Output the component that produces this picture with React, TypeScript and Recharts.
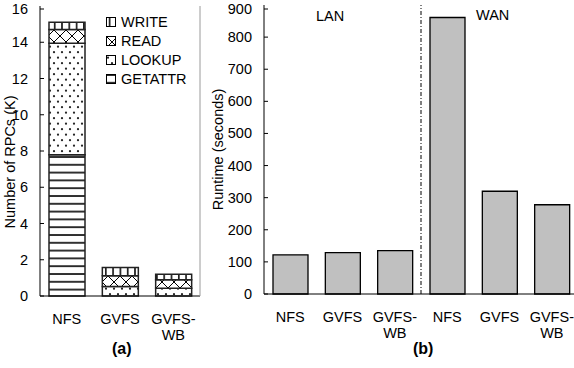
import { BarChart, Bar, XAxis, YAxis, Legend, ReferenceLine } from 'recharts';

// (a) RPC counts, thousands
const rpcCategories = ['NFS', 'GVFS', 'GVFS-WB'];
const getattrK = [7.8, 0, 0];
const lookupK = [6.15, 0.52, 0.43];
const readK = [0.75, 0.6, 0.46];
const writeK = [0.4, 0.45, 0.31];
const rpcTicks = [0, 2, 4, 6, 8, 10, 12, 14, 16];

// (b) runtime, seconds (first three LAN, last three WAN)
const runtimeKeys = ['lan-nfs', 'lan-gvfs', 'lan-gvfswb', 'wan-nfs', 'wan-gvfs', 'wan-gvfswb'];
const runtimeLabels = ['NFS', 'GVFS', 'GVFS-WB', 'NFS', 'GVFS', 'GVFS-WB'];
const runtimeSeconds = [122, 129, 135, 861, 320, 278];
const runtimeTicks = [0, 100, 200, 300, 400, 500, 600, 700, 800, 900];

const rpcData = rpcCategories.map((name, i) => ({
  name,
  getattr: getattrK[i],
  lookup: lookupK[i],
  read: readK[i],
  write: writeK[i],
}));

const runtimeData = runtimeKeys.map((key, i) => ({ key, runtime: runtimeSeconds[i] }));

const FONT = "'Liberation Sans', Arial, Helvetica, sans-serif";
const FS = 14.5;
const TICK_GAP = 12;
const FRAME = '#9a9a9a';

function YTick(props: any) {
  const { x, y, payload } = props;
  return (
    <g>
      <line x1={x + TICK_GAP} x2={x + TICK_GAP + 4} y1={y} y2={y} stroke='#000' />
      <text x={x} y={y} dy={5} textAnchor='end' fontSize={FS} fill='#000'>
        {payload.value}
      </text>
    </g>
  );
}

function splitLabel(label: string) {
  const idx = label.indexOf('-');
  return idx < 0 ? [label] : [label.slice(0, idx + 1), label.slice(idx + 1)];
}

function XTick(props: any) {
  const { x, y, payload, toLabel } = props;
  const parts = splitLabel(toLabel ? toLabel(payload.value) : payload.value);
  return (
    <text x={x} y={y} textAnchor='middle' fontSize={FS} fill='#000'>
      {parts.map((p, i) => (
        <tspan key={i} x={x} dy={i === 0 ? 28 : 16}>
          {p}
        </tspan>
      ))}
    </text>
  );
}

// rotated axis title, centred on the plot height plus a small shift
function axisTitle(text: string, offset: number, shift: number) {
  return (props: any) => {
    const vb = props.viewBox;
    const cx = vb.x + offset;
    const cy = vb.y + vb.height / 2 + shift;
    return (
      <text
        x={cx}
        y={cy}
        transform={`rotate(-90, ${cx}, ${cy})`}
        textAnchor='middle'
        dominantBaseline='central'
        fontSize={FS}
        fill='#000'
      >
        {text}
      </text>
    );
  };
}

function RpcLegend(props: any) {
  const items = [...(props.payload ?? [])].reverse();
  return (
    <div style={{ fontFamily: FONT, fontSize: FS, color: '#000' }}>
      {items.map((e: any) => (
        <div key={e.value} style={{ display: 'flex', alignItems: 'center', height: 19 }}>
          <svg width={10} height={10}>
            <rect x={0.5} y={0.5} width={9} height={9} fill={e.color} stroke='#000' />
          </svg>
          <span style={{ marginLeft: 5 }}>{e.value}</span>
        </div>
      ))}
    </div>
  );
}

const runtimeLabel = (key: string) => runtimeLabels[runtimeKeys.indexOf(key)];

export default function App() {
  return (
    <div
      style={{
        position: 'absolute',
        left: 0,
        top: 0,
        width: 574,
        height: 368,
        overflow: 'hidden',
        background: '#fff',
        fontFamily: FONT,
      }}
    >
      <div style={{ position: 'absolute', left: 0, top: 0 }}>
        <BarChart width={210} height={368} data={rpcData} margin={{ top: 6, right: 0, bottom: 0, left: 0 }} barSize={36}>
          <defs>
            <pattern id='pat-getattr' patternUnits='userSpaceOnUse' width={8} height={7.8}>
              <rect width={8} height={7.8} fill='#fff' />
              <line x1={0} x2={8} y1={1} y2={1} stroke='#000' strokeWidth={1.6} />
            </pattern>
            <pattern id='pat-lookup' patternUnits='userSpaceOnUse' width={8} height={11}>
              <rect width={8} height={11} fill='#fff' />
              <circle cx={2} cy={2.7} r={1.1} fill='#222' />
              <circle cx={6} cy={8.2} r={1.1} fill='#222' />
            </pattern>
            <pattern id='pat-read' patternUnits='userSpaceOnUse' width={12} height={12}>
              <rect width={12} height={12} fill='#fff' />
              <path d='M0 0 L12 12 M12 0 L0 12' stroke='#000' strokeWidth={1} />
            </pattern>
            <pattern id='pat-write' patternUnits='userSpaceOnUse' width={7.3} height={8}>
              <rect width={7.3} height={8} fill='#fff' />
              <line x1={3.6} x2={3.6} y1={0} y2={8} stroke='#000' strokeWidth={1.5} />
            </pattern>
          </defs>
          <XAxis xAxisId='top' orientation='top' dataKey='name' height={0} tick={false} tickLine={false} stroke={FRAME} />
          <XAxis
            dataKey='name'
            height={72}
            stroke='#000'
            interval={0}
            tickLine={false}
            tickSize={0}
            tickMargin={0}
            tick={(p: any) => <XTick {...p} />}
          />
          <YAxis yAxisId='frame' orientation='right' width={10} tick={false} tickLine={false} stroke={FRAME} />
          <YAxis
            width={40}
            domain={[0, 16]}
            ticks={rpcTicks}
            stroke='#000'
            tickLine={false}
            tickSize={0}
            tickMargin={TICK_GAP}
            tick={(p: any) => <YTick {...p} />}
            label={axisTitle('Number of RPCs (K)', 10, 11)}
          />
          <Legend
            layout='vertical'
            align='center'
            verticalAlign='middle'
            content={(p: any) => <RpcLegend {...p} />}
            wrapperStyle={{ left: 106, top: 12, width: 'auto' }}
          />
          <Bar dataKey='getattr' name='GETATTR' stackId='a' fill='url(#pat-getattr)' stroke='#222' strokeWidth={1.5} isAnimationActive={false} />
          <Bar dataKey='lookup' name='LOOKUP' stackId='a' fill='url(#pat-lookup)' stroke='#222' strokeWidth={1.5} isAnimationActive={false} />
          <Bar dataKey='read' name='READ' stackId='a' fill='url(#pat-read)' stroke='#222' strokeWidth={1.5} isAnimationActive={false} />
          <Bar dataKey='write' name='WRITE' stackId='a' fill='url(#pat-write)' stroke='#222' strokeWidth={1.5} isAnimationActive={false} />
        </BarChart>
      </div>

      <div style={{ position: 'absolute', left: 205, top: 0 }}>
        <BarChart width={374} height={368} data={runtimeData} margin={{ top: 5, right: 0, bottom: 0, left: 0 }} barSize={35}>
          <XAxis xAxisId='top' orientation='top' dataKey='key' height={0} tick={false} tickLine={false} stroke={FRAME} />
          <XAxis
            dataKey='key'
            height={74}
            stroke='#000'
            interval={0}
            tickLine={false}
            tickSize={0}
            tickMargin={0}
            tick={(p: any) => <XTick {...p} toLabel={runtimeLabel} />}
          />
          <YAxis yAxisId='frame' orientation='right' width={1} tick={false} tickLine={false} stroke={FRAME} />
          <YAxis
            width={59}
            domain={[0, 900]}
            ticks={runtimeTicks}
            stroke='#000'
            tickLine={false}
            tickSize={0}
            tickMargin={TICK_GAP}
            tick={(p: any) => <YTick {...p} />}
            label={axisTitle('Runtime (seconds)', 13, 0)}
          />
          <ReferenceLine x='wan-nfs' position='start' stroke='#000' strokeDasharray='4 2 1 2' />
          <Bar dataKey='runtime' fill='#c0c0c0' stroke='#000' strokeWidth={1.3} isAnimationActive={false} />
        </BarChart>
      </div>

      <div style={{ position: 'absolute', left: 316, top: 8, fontSize: FS }}>LAN</div>
      <div style={{ position: 'absolute', left: 476, top: 7, fontSize: FS }}>WAN</div>
      <div style={{ position: 'absolute', left: 112, top: 340, fontSize: 16, fontWeight: 'bold' }}>(a)</div>
      <div style={{ position: 'absolute', left: 413, top: 340, fontSize: 16, fontWeight: 'bold' }}>(b)</div>
    </div>
  );
}
